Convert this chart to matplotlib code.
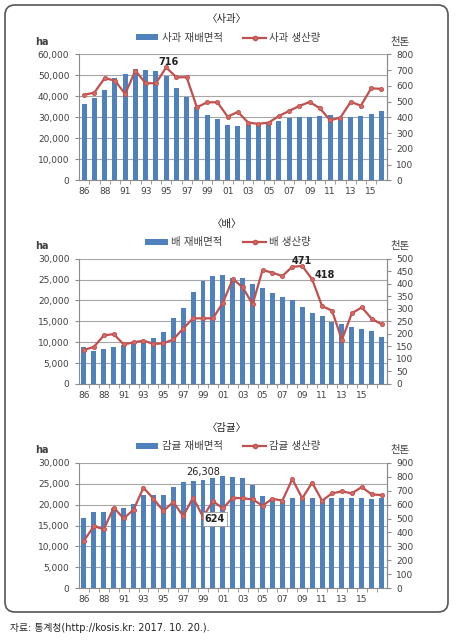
import matplotlib
matplotlib.use('Agg')
import matplotlib.pyplot as plt
from matplotlib.patches import FancyBboxPatch, Patch
from matplotlib.lines import Line2D
from matplotlib.ticker import FuncFormatter

plt.rcParams['font.family'] = ['DejaVu Sans', 'Noto Sans CJK KR']

BAR_COLOR = '#4F81BD'
LINE_COLOR = '#C0504D'
TEXT_COLOR = '#404040'
AXIS_COLOR = '#8C8C8C'

# 연도 (x축 범주)
years_apple = ['86', '87', '88', '89', '91', '92', '93', '94', '95', '96',
               '97', '98', '99', '00', '01', '02', '03', '04', '05', '06',
               '07', '08', '09', '10', '11', '12', '13', '14', '15', '16']
years_pear = years_apple + ['17']
years_citrus = years_apple + ['17']

# 사과: 재배면적(ha), 생산량(천톤)
apple_area = [36300, 39000, 43200, 48700, 50600, 52900, 52400, 52200, 49800, 44000,
              39800, 34800, 31000, 29400, 26300, 26000, 26300, 26800, 27100, 28400,
              29500, 30000, 30300, 30800, 31100, 30300, 30300, 30600, 31400, 33200]
apple_prod = [542, 557, 648, 633, 548, 696, 616, 616, 716, 654,
              654, 463, 495, 495, 404, 434, 366, 358, 366, 408,
              440, 472, 497, 457, 381, 398, 497, 474, 584, 580]

# 배
pear_area = [8900, 8000, 8400, 8900, 9300, 9600, 10200, 11000, 12500, 15800,
             18300, 22000, 24700, 25800, 26200, 25500, 25400, 24000, 22900, 21700,
             20800, 20000, 18400, 17100, 16300, 14900, 14400, 13700, 13200, 12800,
             11200]
pear_prod = [136, 148, 194, 199, 158, 166, 173, 160, 162, 178,
             221, 262, 262, 262, 324, 419, 386, 318, 455, 444,
             431, 468, 471, 418, 311, 293, 176, 282, 306, 261,
             238]

# 감귤
citrus_area = [16700, 18200, 18200, 19300, 19200, 20200, 22400, 22200, 22200, 24200,
               25400, 25700, 25900, 26308, 26900, 26600, 26300, 24600, 22100, 21600,
               21100, 21600, 21500, 21500, 21200, 21500, 21500, 21500, 21500, 21300,
               21600]
citrus_prod = [341, 446, 423, 578, 501, 563, 721, 642, 554, 618,
               518, 649, 513, 624, 573, 649, 645, 637, 592, 642,
               628, 783, 645, 757, 628, 680, 695, 680, 726, 673,
               668]


def draw_panel(fig, rect, title, years, area, prod, area_max, area_step,
               prod_max, prod_step, bar_label, line_label):
    ax = fig.add_axes(rect)
    x = list(range(len(years)))
    ax.bar(x, area, width=0.5, color=BAR_COLOR, zorder=2)
    ax.set_xlim(-0.5, len(years) - 0.5)
    ax.set_ylim(0, area_max)
    ax.set_yticks(range(0, area_max + 1, area_step))
    ax.yaxis.set_major_formatter(FuncFormatter(lambda v, p: f'{int(v):,}'))
    # 두 칸마다 표시, 마지막 '15'까지만
    shown = x[:29:2]
    ax.set_xticks(shown)
    ax.set_xticklabels([years[i] for i in shown])
    ax.set_xticks([i + 0.5 for i in x[:-1]], minor=True)
    ax.tick_params(axis='x', which='major', length=0, pad=5,
                   labelsize=6.5, labelcolor=TEXT_COLOR)
    ax.tick_params(axis='x', which='minor', length=3, color=AXIS_COLOR)
    ax.tick_params(axis='y', length=3, pad=4, color=AXIS_COLOR,
                   labelsize=6.5, labelcolor=TEXT_COLOR)
    ax.grid(axis='y', color='#A6A6A6', linewidth=0.8)
    ax.set_axisbelow(True)
    ax.spines['top'].set_visible(False)
    for s in ['left', 'bottom', 'right']:
        ax.spines[s].set_color(AXIS_COLOR)

    ax2 = ax.twinx()
    ax2.plot(x, prod, color=LINE_COLOR, linewidth=1.6, marker='o',
             markersize=3, markerfacecolor='#D46A67', markeredgecolor=LINE_COLOR,
             markeredgewidth=0.6, zorder=3)
    ax2.set_ylim(0, prod_max)
    ax2.set_yticks(range(0, prod_max + 1, prod_step))
    ax2.tick_params(axis='y', length=3, pad=4, color=AXIS_COLOR,
                    labelsize=6.5, labelcolor=TEXT_COLOR)
    ax2.spines['top'].set_visible(False)
    ax2.spines['right'].set_color(AXIS_COLOR)
    ax2.spines['left'].set_visible(False)
    ax2.spines['bottom'].set_visible(False)

    ax.text(0.48, 1.28, title, transform=ax.transAxes, ha='center',
            va='center', fontsize=7.5, color='#222222')
    ax.text(-0.12, 1.10, 'ha', transform=ax.transAxes, ha='center',
            va='center', fontsize=7, fontweight='bold', color=TEXT_COLOR)
    ax.text(1.044, 1.10, '천톤', transform=ax.transAxes, ha='center',
            va='center', fontsize=7.5, color=TEXT_COLOR)

    handles = [Patch(facecolor=BAR_COLOR, edgecolor='none'),
               Line2D([], [], color=LINE_COLOR, linewidth=1.6, marker='o',
                      markersize=3, markerfacecolor='#D46A67')]
    ax.legend(handles, [bar_label, line_label], loc='center',
              bbox_to_anchor=(0.485, 1.13), ncol=2, frameon=False,
              fontsize=7.5, handlelength=2.2, handleheight=0.5,
              handletextpad=0.3, columnspacing=2.0,
              labelcolor=TEXT_COLOR)
    return ax, ax2


fig = plt.figure(figsize=(4.57, 6.42), dpi=100)

# 둥근 테두리 박스
bg = fig.add_axes([0, 0, 1, 1])
bg.set_xlim(0, 457)
bg.set_ylim(642, 0)
bg.axis('off')
bg.add_patch(FancyBboxPatch((5, 5), 443, 607,
                            boxstyle='round,pad=0,rounding_size=10',
                            facecolor='white', edgecolor='#555555', linewidth=1.2))

ax_a, ax_a2 = draw_panel(fig, [0.1729, 0.7192, 0.6729, 0.1963], '〈사과〉',
                         years_apple, apple_area, apple_prod, 60000, 10000, 800, 100,
                         '사과 재배면적', '사과 생산량')
ax_b, ax_b2 = draw_panel(fig, [0.1729, 0.4019, 0.6729, 0.1951], '〈배〉',
                         years_pear, pear_area, pear_prod, 30000, 5000, 500, 50,
                         '배 재배면적', '배 생산량')
ax_c, ax_c2 = draw_panel(fig, [0.1729, 0.0836, 0.6729, 0.1957], '〈감귤〉',
                         years_citrus, citrus_area, citrus_prod, 30000, 5000, 900, 100,
                         '감귤 재배면적', '감귤 생산량')

# 데이터 레이블
lab = dict(textcoords='offset points', ha='center', va='center',
           fontsize=7, fontweight='bold', color='#222222')
i = years_apple.index('95')
ax_a2.annotate(str(apple_prod[i]), xy=(i, apple_prod[i]), xytext=(1.4, 4), **lab)
i = years_pear.index('09')
ax_b2.annotate(str(pear_prod[i]), xy=(i, pear_prod[i]), xytext=(0, 3.5), **lab)
i = years_pear.index('10')
ax_b2.annotate(str(pear_prod[i]), xy=(i, pear_prod[i]), xytext=(9, 3), **lab)
i = years_citrus.index('00')
ax_c.annotate(f'{citrus_area[i]:,}', xy=(i, citrus_area[i]), xytext=(-7, 4.5),
              textcoords='offset points', ha='center', va='center',
              fontsize=7, color='#222222')
ax_c2.annotate(str(citrus_prod[i]), xy=(i, citrus_prod[i]), xytext=(1.4, -12.5),
               bbox=dict(boxstyle='square,pad=0.2', facecolor='white',
                         edgecolor='#999999', linewidth=0.6), **lab)

fig.text(10 / 457, 1 - 628 / 642, '자료: 통계청(http://kosis.kr: 2017. 10. 20.).',
         ha='left', va='center', fontsize=7, color='#222222')

fig.savefig('out.png', dpi=100)
